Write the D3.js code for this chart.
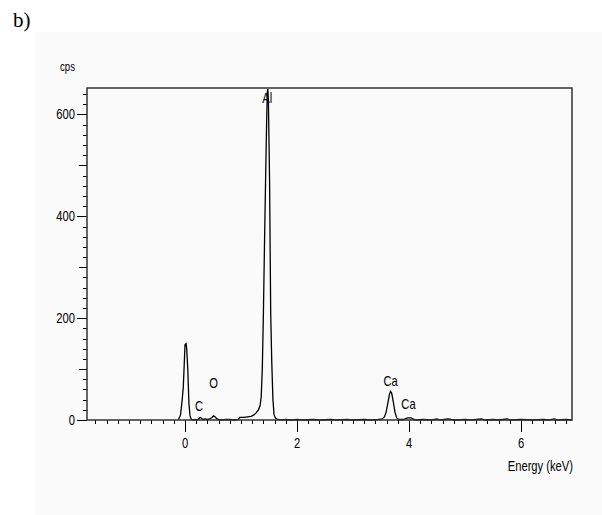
<!DOCTYPE html>
<html>
<head>
<meta charset="utf-8">
<script src="https://cdn.jsdelivr.net/npm/d3@7"></script>
<style>
  body { margin: 0; background: #ffffff; }
  svg { display: block; }
</style>
</head>
<body>
<div id="chart"></div>
<script>
// EDS spectrum (b) - D3.js

// Spectrum data (energy in keV, counts in cps)
const energy = [
  -0.12, -0.08, -0.05, -0.03, -0.01, 0.00, 0.02, 0.03, 0.05, 0.07, 0.09, 0.11, 0.14, 0.18, 0.22,
  0.25, 0.27, 0.29, 0.32, 0.36, 0.40, 0.44, 0.48, 0.51, 0.54, 0.57, 0.60, 0.65, 0.72, 0.80, 0.88,
  0.95, 0.98, 1.05, 1.12, 1.18, 1.23, 1.27, 1.31, 1.34, 1.36, 1.38, 1.40, 1.42, 1.44, 1.46, 1.47,
  1.48, 1.49, 1.51, 1.53, 1.55, 1.57, 1.59, 1.62, 1.66, 1.72, 1.80, 1.90, 2.00, 2.10, 2.30, 2.40,
  2.60, 2.70, 2.90, 3.00, 3.20, 3.30, 3.45, 3.52, 3.56, 3.59, 3.62, 3.65, 3.67, 3.69, 3.72, 3.75,
  3.78, 3.82, 3.90, 3.95, 3.98, 4.04, 4.07, 4.12, 4.25, 4.40, 4.50, 4.55, 4.70, 4.75, 4.85, 5.00,
  5.10, 5.30, 5.35, 5.50, 5.60, 5.75, 5.80, 6.00, 6.20, 6.40, 6.50, 6.60, 6.65, 6.80, 6.91
];
const cps = [
  0, 10, 40, 66, 120, 148, 150, 140, 99, 33, 8, 2, 0, 1, 0,
  3, 5, 4, 1, 2, 1, 2, 5, 8, 6, 2, 1, 0, 1, 1, 0,
  1, 5, 5, 6, 7, 10, 14, 20, 28, 45, 100, 210, 350, 480, 600, 645,
  650, 620, 470, 210, 110, 40, 10, 3, 1, 0, 1, 0, 1, 0, 1, 0,
  1, 0, 1, 0, 1, 0, 1, 2, 6, 15, 32, 50, 56, 53, 35, 15,
  4, 1, 1, 3, 4, 4, 2, 0, 1, 0, 2, 0, 2, 1, 0, 1,
  0, 2, 0, 1, 0, 2, 0, 1, 0, 1, 0, 2, 0, 1, 0
];

// Axis ticks
const xMajorTicks = [0, 2, 4, 6];
const yMajorTicks = [0, 200, 400, 600];

// Peak labels: [label, energy, cps at label baseline]
const peakLabels = [
  ["Al", 1.47, 622],
  ["C", 0.25, 17],
  ["O", 0.51, 63],
  ["Ca", 3.67, 67],
  ["Ca", 3.99, 21]
];

// Dimensions
const width = 602;
const height = 515;
const plot = { left: 87, right: 572, top: 88, bottom: 420 };
const font = "'Liberation Sans', Arial, sans-serif";
const squeeze = 0.8; // the original labels use a narrow screen font

const svg = d3.select("#chart").append("svg")
  .attr("width", width)
  .attr("height", height);

// Narrow label helper
function addLabel(parent, x, y, text, anchor, size) {
  return parent.append("text")
    .attr("transform", `translate(${x},${y}) scale(${squeeze},1)`)
    .attr("text-anchor", anchor)
    .attr("font-family", font)
    .attr("font-size", size + "px")
    .attr("fill", "#000")
    .text(text);
}

// Panel background
svg.append("rect")
  .attr("x", 35)
  .attr("y", 32)
  .attr("width", width - 35)
  .attr("height", height - 32)
  .attr("fill", "#fafafa");

// Figure letter
svg.append("text")
  .attr("x", 13)
  .attr("y", 27)
  .attr("font-family", "'Liberation Serif', 'Times New Roman', serif")
  .attr("font-size", "21px")
  .attr("fill", "#000")
  .text("b)");

const x = d3.scaleLinear().domain([-1.75, 6.91]).range([plot.left, plot.right]);
const y = d3.scaleLinear().domain([0, 652]).range([plot.bottom, plot.top]);

// Minor ticks
const xMinor = d3.range(-16, 35).map(d => d / 5).filter(d => d > -1.75 && d < 6.91);
const yMinor = d3.range(0, 33).map(d => d * 20);

// X axis ticks (below the axis line)
svg.append("g")
  .selectAll("line")
  .data(xMinor)
  .enter()
  .append("line")
  .attr("x1", d => Math.round(x(d)) + 0.5)
  .attr("x2", d => Math.round(x(d)) + 0.5)
  .attr("y1", plot.bottom)
  .attr("y2", d => plot.bottom + (xMajorTicks.some(t => Math.abs(t - d) < 1e-6) ? 12 : 4))
  .attr("stroke", "#000")
  .attr("stroke-width", 1);

const xLabels = svg.append("g");
xMajorTicks.forEach(d => addLabel(xLabels, x(d), 448, d, "middle", 14));

// Y axis ticks (left of the axis line)
svg.append("g")
  .selectAll("line")
  .data(yMinor)
  .enter()
  .append("line")
  .attr("x1", d => plot.left - (d % 200 === 0 ? 10 : d % 100 === 0 ? 8 : 4))
  .attr("x2", plot.left)
  .attr("y1", d => Math.round(y(d)) + 0.5)
  .attr("y2", d => Math.round(y(d)) + 0.5)
  .attr("stroke", "#000")
  .attr("stroke-width", 1);

const yLabels = svg.append("g");
yMajorTicks.forEach(d => addLabel(yLabels, 75, y(d) + 5, d, "end", 14));

// Spectrum line
const spectrum = energy.map((e, i) => [e, cps[i]]);
const line = d3.line()
  .x(d => x(d[0]))
  .y(d => y(d[1]));

svg.append("path")
  .datum(spectrum)
  .attr("d", line)
  .attr("fill", "none")
  .attr("stroke", "#000")
  .attr("stroke-width", 1.3);

// Frame
svg.append("rect")
  .attr("x", plot.left)
  .attr("y", plot.top)
  .attr("width", plot.right - plot.left)
  .attr("height", plot.bottom - plot.top)
  .attr("fill", "none")
  .attr("stroke", "#333")
  .attr("stroke-width", 1.5);

// Peak labels
const peaks = svg.append("g");
peakLabels.forEach(d => addLabel(peaks, x(d[1]), y(d[2]), d[0], "middle", 14));

// Axis titles
addLabel(svg, 60, 71, "cps", "start", 12);
addLabel(svg, 573, 471, "Energy (keV)", "end", 14);
</script>
</body>
</html>
